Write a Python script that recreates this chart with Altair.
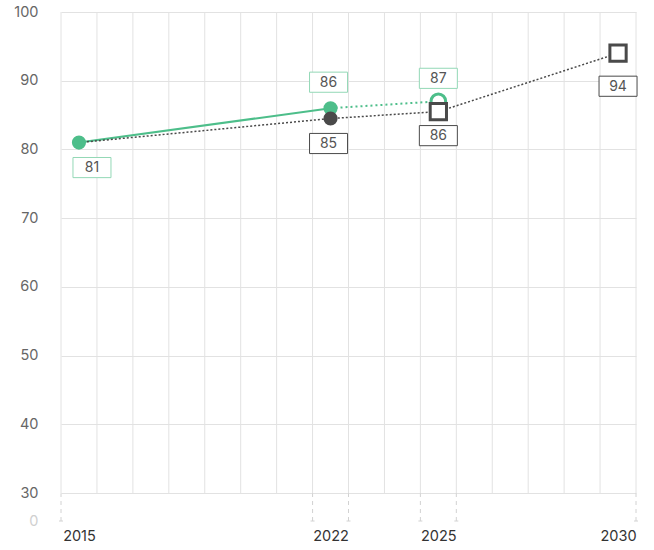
import altair as alt
import pandas as pd

# Series values
years_actual = [2015, 2022, 2025]
values_actual = [81, 86, 87]          # 2025 is a projection
years_target = [2015, 2022, 2025, 2030]
values_target = [81, 84.5, 85.5, 94]

# Axis ticks
x_tick_labels = [2015, 2022, 2025, 2030]
y_tick_labels = [0, 30, 40, 50, 60, 70, 80, 90, 100]
band_edges = [2014.5, 2021.5, 2022.5, 2024.5, 2025.5, 2030.5]

GREEN = "#4dbe8a"
GREEN_LIGHT = "#93d8b6"
DARK = "#4a4a4a"
GRID = "#e2e2e2"
FONT = "Inter"
BOX = "M-1,-0.53L1,-0.53L1,0.53L-1,0.53Z"

x_scale = alt.Scale(domain=[2014.5, 2030.5], nice=False, zero=False)
y_scale = alt.Scale(domain=[0, 30, 100], range=[509, 481, 0], nice=False, zero=False)

x_axis = alt.Axis(values=x_tick_labels, format="d", title=None, grid=False, ticks=False,
                  domain=False, labelFont=FONT, labelFontSize=14.5, labelColor="#333",
                  labelFontWeight="normal", labelPadding=8)
y_axis = alt.Axis(values=y_tick_labels, title=None, ticks=False, domain=False,
                  labelFont=FONT, labelFontSize=14.5, labelPadding=23,
                  labelColor={"condition": {"test": "datum.value === 0", "value": "#d0d0d0"},
                              "value": "#666"},
                  gridColor={"condition": {"test": "datum.value === 0", "value": "transparent"},
                             "value": GRID})

X = alt.X("year:Q", scale=x_scale, axis=x_axis)
Y = alt.Y("value:Q", scale=y_scale, axis=y_axis)

actual = pd.DataFrame({"year": years_actual, "value": values_actual})
target = pd.DataFrame({"year": years_target, "value": values_target})

# vertical grid, one line between every pair of years
grid_df = pd.DataFrame({"year": [y + 0.5 for y in range(2014, 2031)],
                        "value": 30, "value2": 100})
vgrid = alt.Chart(grid_df).mark_rule(color=GRID, strokeWidth=1).encode(
    x=X, y=Y, y2="value2:Q")

# dashed band ticks under the plot
ticks_df = pd.DataFrame({"year": band_edges, "value": 0, "value2": 29.7})
ticks = alt.Chart(ticks_df).mark_rule(color="#d2d2d2", strokeWidth=1,
                                      strokeDash=[4, 4]).encode(x=X, y=Y, y2="value2:Q")
caps = alt.Chart(ticks_df).mark_point(shape="M-1,0L1,0", size=16, color="#d2d2d2",
                                      strokeWidth=1, opacity=1).encode(x=X, y=Y)

green_solid = alt.Chart(actual.iloc[:2]).mark_line(color=GREEN, strokeWidth=2).encode(x=X, y=Y)
green_dotted = alt.Chart(actual.iloc[1:]).mark_line(color=GREEN, strokeWidth=2,
                                                    strokeDash=[2, 3]).encode(x=X, y=Y)
dark_dotted = alt.Chart(target).mark_line(color=DARK, strokeWidth=1.5,
                                          strokeDash=[2, 2]).encode(x=X, y=Y)

green_dots = alt.Chart(actual.iloc[:2]).mark_circle(size=200, color=GREEN, opacity=1).encode(x=X, y=Y)
green_ring = alt.Chart(actual.iloc[2:]).mark_point(shape="circle", size=215, fill="white",
                                                   stroke=GREEN, strokeWidth=3,
                                                   opacity=1).encode(x=X, y=Y)
dark_dot = alt.Chart(target.iloc[1:2]).mark_circle(size=200, color=DARK, opacity=1).encode(x=X, y=Y)
dark_squares = alt.Chart(target.iloc[2:]).mark_point(shape="square", size=265, fill="white",
                                                     stroke=DARK, strokeWidth=3,
                                                     opacity=1).encode(x=X, y=Y)


def tag(df, color, dx, dy):
    box = alt.Chart(df).mark_point(shape=BOX, size=1444, fill="white", fillOpacity=1,
                                   stroke=color, strokeWidth=1, opacity=1,
                                   xOffset=dx, yOffset=dy).encode(x=X, y=Y)
    txt = alt.Chart(df).mark_text(font=FONT, fontSize=14, color="#555", baseline="middle",
                                  align="center", xOffset=dx, yOffset=dy + 0.5).encode(
        x=X, y=Y, text=alt.Text("value:Q", format=".0f"))
    return [box, txt]


# label placement (pixel offsets from each marker)
tags = []
tags += tag(actual.iloc[0:1], GREEN_LIGHT, 13, 25)
tags += tag(actual.iloc[1:2], GREEN_LIGHT, -2, -26)
tags += tag(actual.iloc[2:3], GREEN_LIGHT, 0, -23)
tags += tag(target.iloc[1:2], DARK, -2, 25)
tags += tag(target.iloc[2:3], DARK, 0, 24)
tags += tag(target.iloc[3:4], DARK, 0, 33)

chart = alt.layer(
    vgrid, ticks, caps,
    green_solid, green_dotted, dark_dotted,
    green_dots, green_ring, dark_dot, dark_squares,
    *tags
).properties(
    width=575, height=509,
    autosize=alt.AutoSizeParams(type="none"),
    padding={"left": 61, "top": 12, "right": 18, "bottom": 29},
    background="white",
).configure_view(stroke=None)

chart.save("out.html", embed_options={"renderer": "svg", "actions": False})
